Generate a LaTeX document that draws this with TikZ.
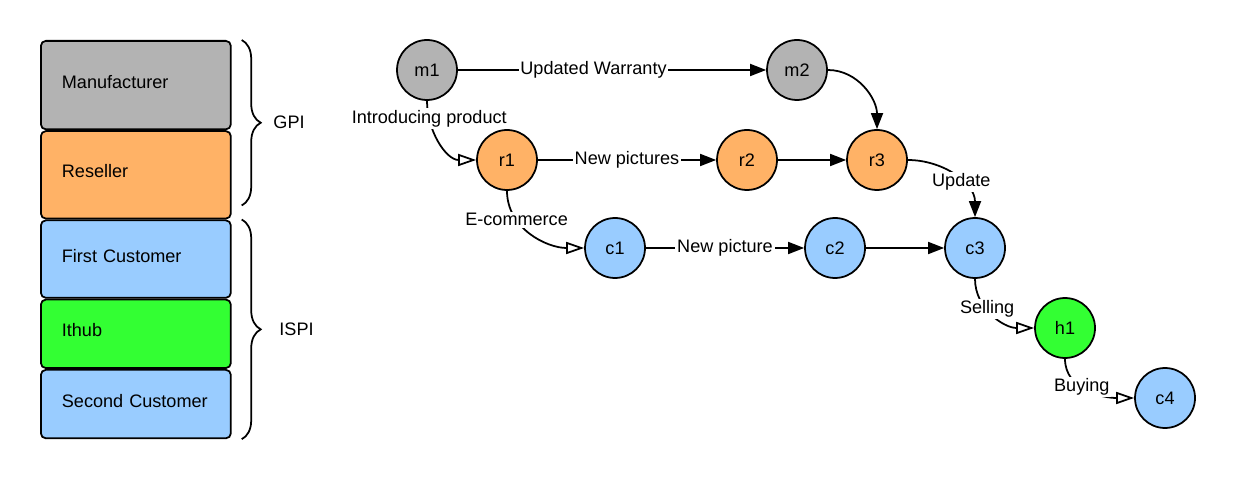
\documentclass[tikz,border=0pt]{standalone}
\usepackage{fontspec}
\setmainfont{Liberation Sans}
\usetikzlibrary{positioning,arrows.meta,decorations.pathreplacing}
\definecolor{mangray}{HTML}{B3B3B3}
\definecolor{resorange}{HTML}{FFB266}
\definecolor{custblue}{HTML}{99CCFF}
\definecolor{hubgreen}{HTML}{33FF33}
\tikzset{lane/.style={draw,rectangle,rounded corners=0.1cm,line width=1pt,minimum height=#1,
text width=2.96cm,inner xsep=0.42cm,align=left,text depth=4pt},
actor/.style={draw,circle,line width=1pt,minimum size=1.2cm,inner sep=0pt,fill=#1},
flow/.style={line width=1pt,-{Triangle[length=0.32cm,width=0.24cm]}},
handover/.style={line width=1pt,-{Triangle[open,length=0.36cm,width=0.24cm]}},
lbl/.style={fill=white,inner sep=1pt},
bracket/.style={decorate,decoration={brace,amplitude=0.38cm},line width=1pt}}

\begin{document}
\begin{tikzpicture}[x=0.02cm,y=0.02cm,font=\fontsize{10.3}{12}\selectfont]
    \useasboundingbox (0,0) rectangle (1236,480);
    % lanes
    \node[lane=1.77cm,fill=mangray,anchor=north west] (man) at (40,440) {Manufacturer};
    \node[lane=1.75cm,fill=resorange,below=0pt of man] (res) {Reseller};
    \node[lane=1.55cm,fill=custblue,below=0pt of res] (fst) {First Customer};
    \node[lane=1.37cm,fill=hubgreen,below=0pt of fst] (hub) {Ithub};
    \node[lane=1.37cm,fill=custblue,below=0pt of hub] (snd) {Second Customer};
    % braces
    \draw[bracket] ([xshift=0.2cm]man.north east) -- node[right=0.5cm] (gpi) {GPI}
        ([xshift=0.2cm,yshift=0.28cm]res.south east);
    \draw[bracket] ([xshift=0.2cm]fst.north east) -- node[right=0.62cm] (ispi) {ISPI}
        ([xshift=0.2cm]snd.south east);
    % actors
    \node[actor=mangray] (m1) at (427,410) {m1};
    \node[actor=mangray] (m2) at (797,410) {m2};
    \node[actor=resorange] (r1) at (507,320) {r1};
    \node[actor=resorange] (r2) at (747,320) {r2};
    \node[actor=resorange] (r3) at (877,320) {r3};
    \node[actor=custblue] (c1) at (615,232) {c1};
    \node[actor=custblue] (c2) at (835,232) {c2};
    \node[actor=custblue] (c3) at (975,232) {c3};
    \node[actor=hubgreen] (h1) at (1065,152) {h1};
    \node[actor=custblue] (c4) at (1165,82) {c4};
    % links
    \draw[flow] (m1) -- node[lbl,pos=0.44] {Updated Warranty} (m2);
    \draw[flow] (r1) -- node[lbl] {New pictures} (r2);
    \draw[flow] (r2) -- (r3);
    \draw[flow] (c1) -- node[lbl] {New picture} (c2);
    \draw[flow] (c2) -- (c3);
    \draw[flow] (m2.east) to[out=0,in=90] (r3.north);
    \draw[flow] (r3.east) to[out=0,in=90] node[lbl,pos=0.6] {Update} (c3.north);
    \draw[handover] (m1.south) to[out=-90,in=180] node[lbl,pos=0.2] {Introducing product} (r1.west);
    \draw[handover] (r1.south) to[out=-90,in=180] node[lbl,pos=0.3] {E-commerce} (c1.west);
    \draw[handover] (c3.south) to[out=-90,in=180] node[lbl,pos=0.4] {Selling} (h1.west);
    \draw[handover] (h1.south) to[out=-90,in=180] node[lbl,pos=0.42] {Buying} (c4.west);
\end{tikzpicture}
\end{document}
